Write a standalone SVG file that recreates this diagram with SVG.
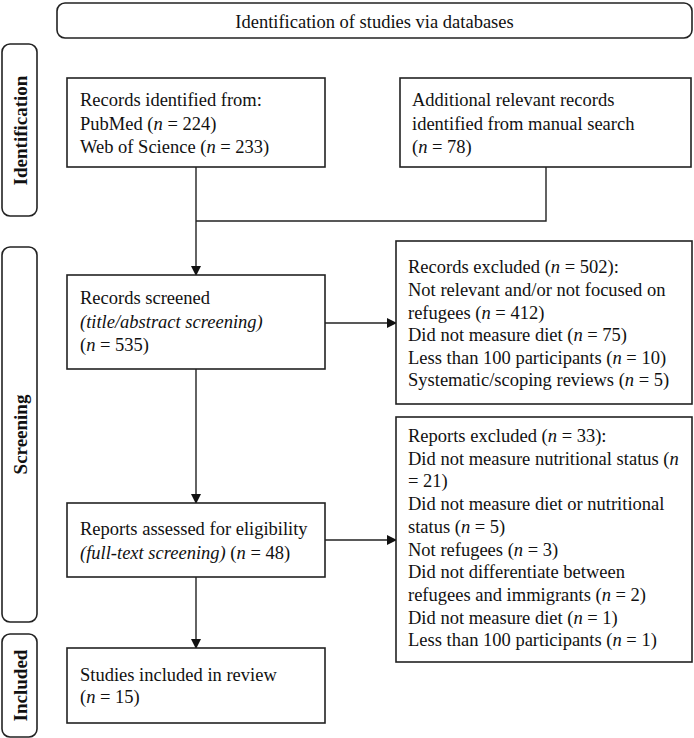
<svg xmlns="http://www.w3.org/2000/svg" width="694" height="738" viewBox="0 0 694 738">
<defs>
<style>
.box{fill:#fff;stroke:#222;stroke-width:1.6}
.tab{fill:#fff;stroke:#222;stroke-width:1.6}
.t{font-family:"Liberation Serif","Times New Roman",serif;font-size:18.5px;fill:#111}
.tb{font-family:"Liberation Serif","Times New Roman",serif;font-size:19px;font-weight:bold;fill:#111}
.i{font-style:italic}
.ln{fill:none;stroke:#222;stroke-width:1.4}
</style>
<marker id="ah" markerWidth="10" markerHeight="10" refX="9" refY="5" orient="auto" markerUnits="userSpaceOnUse">
<path d="M0,0 L10,5 L0,10 Z" fill="#111"/>
</marker>
</defs>
<rect width="694" height="738" fill="#fff"/>

<g id="banner">
<rect class="box" x="57" y="3" width="635" height="35" rx="8"/>
<text class="t" x="374.5" y="28" text-anchor="middle">Identification of studies via databases</text>
</g>

<g id="tab-identification">
<rect class="tab" x="2" y="44" width="35" height="172" rx="8"/>
<text class="tb" transform="translate(20,130.5) rotate(-90)" text-anchor="middle" dominant-baseline="central">Identification</text>
</g>
<g id="tab-screening">
<rect class="tab" x="2" y="247" width="35" height="375" rx="8"/>
<text class="tb" transform="translate(20,434.5) rotate(-90)" text-anchor="middle" dominant-baseline="central">Screening</text>
</g>
<g id="tab-included">
<rect class="tab" x="2" y="634" width="35" height="103" rx="8"/>
<text class="tb" transform="translate(20,685.5) rotate(-90)" text-anchor="middle" dominant-baseline="central">Included</text>
</g>

<g id="connectors">
<path class="ln" d="M196,167 V275" marker-end="url(#ah)"/>
<path class="ln" d="M546,167 V221 H196"/>
<path class="ln" d="M325,323 H396" marker-end="url(#ah)"/>
<path class="ln" d="M196,369 V503" marker-end="url(#ah)"/>
<path class="ln" d="M325,540 H396" marker-end="url(#ah)"/>
<path class="ln" d="M196,577 V648" marker-end="url(#ah)"/>
</g>

<g id="records-identified">
<rect class="box" x="67" y="78" width="258" height="89"/>
<text class="t" x="80" y="106">Records identified from:</text>
<text class="t" x="80" y="129.5">PubMed (<tspan class="i">n</tspan> = 224)</text>
<text class="t" x="80" y="153">Web of Science (<tspan class="i">n</tspan> = 233)</text>
</g>

<g id="additional-records">
<rect class="box" x="400" y="78" width="291" height="89"/>
<text class="t" x="412" y="106">Additional relevant records</text>
<text class="t" x="412" y="129.5">identified from manual search</text>
<text class="t" x="412" y="153">(<tspan class="i">n</tspan> = 78)</text>
</g>

<g id="records-screened">
<rect class="box" x="67" y="275" width="258" height="94"/>
<text class="t" x="80" y="304">Records screened</text>
<text class="t i" x="80" y="328">(title/abstract screening)</text>
<text class="t" x="80" y="351">(<tspan class="i">n</tspan> = 535)</text>
</g>

<g id="records-excluded">
<rect class="box" x="396" y="241" width="296" height="163"/>
<text class="t" x="408" y="273">Records excluded (<tspan class="i">n</tspan> = 502):</text>
<text class="t" x="408" y="296">Not relevant and/or not focused on</text>
<text class="t" x="408" y="319">refugees (<tspan class="i">n</tspan> = 412)</text>
<text class="t" x="408" y="341">Did not measure diet (<tspan class="i">n</tspan> = 75)</text>
<text class="t" x="408" y="364">Less than 100 participants (<tspan class="i">n</tspan> = 10)</text>
<text class="t" x="408" y="386">Systematic/scoping reviews (<tspan class="i">n</tspan> = 5)</text>
</g>

<g id="reports-assessed">
<rect class="box" x="67" y="503" width="258" height="74"/>
<text class="t" x="80" y="535">Reports assessed for eligibility</text>
<text class="t" x="80" y="559"><tspan class="i">(full-text screening)</tspan> (<tspan class="i">n</tspan> = 48)</text>
</g>

<g id="reports-excluded">
<rect class="box" x="396" y="417" width="296" height="245"/>
<text class="t" x="408" y="442">Reports excluded (<tspan class="i">n</tspan> = 33):</text>
<text class="t" x="408" y="464.7">Did not measure nutritional status (<tspan class="i">n</tspan></text>
<text class="t" x="408" y="487.4">= 21)</text>
<text class="t" x="408" y="510">Did not measure diet or nutritional</text>
<text class="t" x="408" y="532.8">status (<tspan class="i">n</tspan> = 5)</text>
<text class="t" x="408" y="555.5">Not refugees (<tspan class="i">n</tspan> = 3)</text>
<text class="t" x="408" y="578">Did not differentiate between</text>
<text class="t" x="408" y="601">refugees and immigrants (<tspan class="i">n</tspan> = 2)</text>
<text class="t" x="408" y="623.6">Did not measure diet (<tspan class="i">n</tspan> = 1)</text>
<text class="t" x="408" y="646.3">Less than 100 participants (<tspan class="i">n</tspan> = 1)</text>
</g>

<g id="studies-included">
<rect class="box" x="67" y="648" width="258" height="75"/>
<text class="t" x="80" y="681">Studies included in review</text>
<text class="t" x="80" y="703">(<tspan class="i">n</tspan> = 15)</text>
</g>
</svg>
